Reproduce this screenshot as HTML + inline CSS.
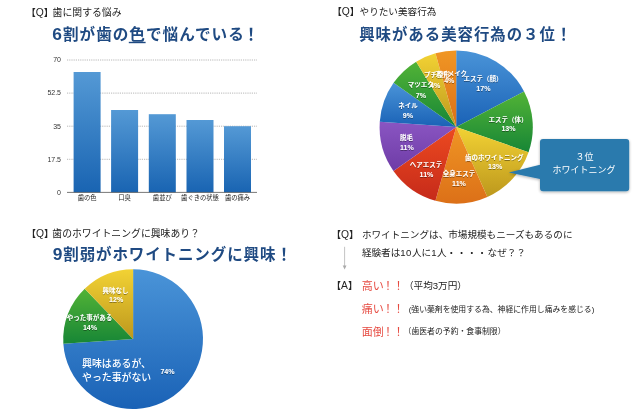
<!DOCTYPE html>
<html lang="ja"><head><meta charset="utf-8"><title>歯に関するアンケート</title>
<style>
html,body{margin:0;padding:0;background:#fff}
body{width:640px;height:416px;overflow:hidden}
svg{display:block;font-family:"Liberation Sans","Noto Sans CJK JP",sans-serif;filter:blur(0.3px)}
.q{font-size:9.6px;fill:#222}
.h{font-size:15.6px;letter-spacing:1px;font-weight:bold;fill:#1f4a82}
.bk{font-weight:bold}
.ql{font-size:10.3px}
.ax{font-size:7px;fill:#333}
.pl{font-size:6.5px;font-weight:bold;fill:#fff;text-anchor:middle}
.pp{font-size:7.1px;font-weight:bold;fill:#fff;text-anchor:middle}
.red{font-size:11px;fill:#e64a40}
.sm{font-size:7.85px;fill:#222}
</style></head><body>
<svg width="640" height="416" viewBox="0 0 640 416">
<defs>
<linearGradient id="g-blue" x1="0" y1="0" x2="0" y2="1"><stop offset="0" stop-color="#4a94d8"/><stop offset="1" stop-color="#1a62b6"/></linearGradient>
<linearGradient id="g-green" x1="0" y1="0" x2="0" y2="1"><stop offset="0" stop-color="#52b336"/><stop offset="1" stop-color="#178636"/></linearGradient>
<linearGradient id="g-yellow" x1="0" y1="0" x2="0" y2="1"><stop offset="0" stop-color="#f2d234"/><stop offset="1" stop-color="#bd981d"/></linearGradient>
<linearGradient id="g-orange" x1="0" y1="0" x2="0" y2="1"><stop offset="0" stop-color="#f09624"/><stop offset="1" stop-color="#dc7018"/></linearGradient>
<linearGradient id="g-red" x1="0" y1="0" x2="0" y2="1"><stop offset="0" stop-color="#ec4a20"/><stop offset="1" stop-color="#c62a1a"/></linearGradient>
<linearGradient id="g-purple" x1="0" y1="0" x2="0" y2="1"><stop offset="0" stop-color="#8a55c2"/><stop offset="1" stop-color="#6e3ca6"/></linearGradient>
<linearGradient id="g-bar" x1="0" y1="0" x2="0" y2="1"><stop offset="0" stop-color="#5499d5"/><stop offset="1" stop-color="#1964b2"/></linearGradient>
<filter id="sh" x="-20%" y="-20%" width="140%" height="150%"><feGaussianBlur in="SourceAlpha" stdDeviation="1.6"/><feOffset dx="0" dy="1.3"/><feComponentTransfer><feFuncA type="linear" slope="0.32"/></feComponentTransfer><feMerge><feMergeNode/><feMergeNode in="SourceGraphic"/></feMerge></filter>
<filter id="ts" x="-10%" y="-30%" width="120%" height="160%"><feGaussianBlur in="SourceAlpha" stdDeviation="0.5"/><feOffset dx="0" dy="0.5"/><feComponentTransfer><feFuncA type="linear" slope="0.38"/></feComponentTransfer><feMerge><feMergeNode/><feMergeNode in="SourceGraphic"/></feMerge></filter>
</defs>
<rect width="640" height="416" fill="#fff"/>
<text class="q" x="26.2" y="15.6"><tspan class="bk">【</tspan><tspan class="ql">Q</tspan><tspan class="bk">】</tspan></text><text class="q" x="52.6" y="15.5" style="font-size:9.85px">歯に関する悩み</text>
<text class="h" x="52.3" y="39.8"><tspan style="font-size:17.4px">6</tspan>割が歯の色で悩んでいる<tspan dx="-1.5">！</tspan></text><rect x="128.8" y="41.8" width="16.8" height="1.4" fill="#1f4a82"/>
<line x1="67" x2="257" y1="60.00" y2="60.00" stroke="#a6a6a6" stroke-width="0.8" stroke-dasharray="1.2 1"/>
<text class="ax" x="61" y="62.30" text-anchor="end">70</text>
<line x1="67" x2="257" y1="93.10" y2="93.10" stroke="#a6a6a6" stroke-width="0.8" stroke-dasharray="1.2 1"/>
<text class="ax" x="61" y="95.40" text-anchor="end">52.5</text>
<line x1="67" x2="257" y1="126.20" y2="126.20" stroke="#a6a6a6" stroke-width="0.8" stroke-dasharray="1.2 1"/>
<text class="ax" x="61" y="128.50" text-anchor="end">35</text>
<line x1="67" x2="257" y1="159.30" y2="159.30" stroke="#a6a6a6" stroke-width="0.8" stroke-dasharray="1.2 1"/>
<text class="ax" x="61" y="161.60" text-anchor="end">17.5</text>
<text class="ax" x="61" y="194.70" text-anchor="end">0</text>
<rect x="73.60" y="72" width="27" height="120.40" fill="url(#g-bar)"/>
<text class="ax" x="87.10" y="200.2" text-anchor="middle" style="font-size:6.3px;fill:#222">歯の色</text>
<rect x="111.10" y="110" width="27" height="82.40" fill="url(#g-bar)"/>
<text class="ax" x="124.60" y="200.2" text-anchor="middle" style="font-size:6.3px;fill:#222">口臭</text>
<rect x="148.80" y="114.2" width="27" height="78.20" fill="url(#g-bar)"/>
<text class="ax" x="162.30" y="200.2" text-anchor="middle" style="font-size:6.3px;fill:#222">歯並び</text>
<rect x="186.50" y="120" width="27" height="72.40" fill="url(#g-bar)"/>
<text class="ax" x="200.00" y="200.2" text-anchor="middle" style="font-size:6.3px;fill:#222">歯ぐきの状態</text>
<rect x="224.00" y="126.2" width="27" height="66.20" fill="url(#g-bar)"/>
<text class="ax" x="237.50" y="200.2" text-anchor="middle" style="font-size:6.3px;fill:#222">歯の痛み</text>
<line x1="67" x2="257" y1="192.4" y2="192.4" stroke="#555" stroke-width="0.8"/>
<text class="q" x="332.2" y="15.2"><tspan class="bk">【</tspan><tspan class="ql">Q</tspan><tspan class="bk">】</tspan></text><text class="q" x="359.6" y="14.8">やりたい美容行為</text>
<text class="h" x="359.2" y="39.6" style="font-size:15.4px">興味がある美容行為の３位<tspan dx="0">！</tspan></text>
<path d="M456.20,127.00L456.20,50.40A76.60,76.60 0 0 1 524.08,91.51Z" fill="url(#g-blue)"/>
<path d="M456.20,127.00L524.08,91.51A76.60,76.60 0 0 1 528.54,152.19Z" fill="url(#g-green)"/>
<path d="M456.20,127.00L528.54,152.19A76.60,76.60 0 0 1 487.36,196.98Z" fill="url(#g-yellow)"/>
<path d="M456.20,127.00L487.36,196.98A76.60,76.60 0 0 1 435.47,200.74Z" fill="url(#g-orange)"/>
<path d="M456.20,127.00L435.47,200.74A76.60,76.60 0 0 1 393.45,170.94Z" fill="url(#g-red)"/>
<path d="M456.20,127.00L393.45,170.94A76.60,76.60 0 0 1 379.78,121.79Z" fill="url(#g-purple)"/>
<path d="M456.20,127.00L379.78,121.79A76.60,76.60 0 0 1 393.61,82.85Z" fill="url(#g-blue)"/>
<path d="M456.20,127.00L393.61,82.85A76.60,76.60 0 0 1 416.18,61.69Z" fill="url(#g-green)"/>
<path d="M456.20,127.00L416.18,61.69A76.60,76.60 0 0 1 435.47,53.26Z" fill="url(#g-yellow)"/>
<path d="M456.20,127.00L435.47,53.26A76.60,76.60 0 0 1 456.20,50.40Z" fill="url(#g-orange)"/>
<g filter="url(#ts)">
<text class="pl" x="483" y="81.30">エステ（顔）</text><text class="pp" x="483.4" y="91.00">17%</text>
<text class="pl" x="508" y="121.90">エステ（体）</text><text class="pp" x="508.5" y="131.30">13%</text>
<text class="pl" x="494.2" y="160.00">歯のホワイトニング</text><text class="pp" x="495.2" y="169.40">13%</text>
<text class="pl" x="459" y="176.10">全身エステ</text><text class="pp" x="459" y="185.50">11%</text>
<text class="pl" x="426" y="167.10">ヘアエステ</text><text class="pp" x="426.5" y="176.90">11%</text>
<text class="pl" x="406.5" y="139.80">脱毛</text><text class="pp" x="406.8" y="149.70">11%</text>
<text class="pl" x="408" y="107.70">ネイル</text><text class="pp" x="408" y="117.80">9%</text>
<text class="pl" x="420.8" y="87.10">マツエク</text><text class="pp" x="421" y="97.50">7%</text>
<text class="pl" x="437" y="76.80">プチ整形</text><text class="pp" x="435.2" y="87.50">4%</text>
<text class="pl" x="451" y="75.50">アイメイク</text><text class="pp" x="449.3" y="82.50">4%</text>
</g>
<path filter="url(#sh)" fill="#2b7aad" d="M543,139.1H626.2a3,3 0 0 1 3,3V188.2a3,3 0 0 1 -3,3H543a3,3 0 0 1 -3,-3V179L508.8,172.5L540,164.8V142.1a3,3 0 0 1 3,-3Z"/>
<text x="584.5" y="160" text-anchor="middle" fill="#fff" style="font-size:9px">３位</text>
<text x="584" y="173.2" text-anchor="middle" fill="#fff" style="font-size:9px">ホワイトニング</text>
<text class="q" x="26.5" y="237.4"><tspan class="bk">【</tspan><tspan class="ql">Q</tspan><tspan class="bk">】</tspan></text><text class="q" x="52.3" y="237.4" style="font-size:9.85px">歯のホワイトニングに興味あり？</text>
<text class="h" x="52.7" y="260.3" style="font-size:15.5px;letter-spacing:0.89px"><tspan style="font-size:17.4px">9</tspan>割弱がホワイトニングに興味！</text>
<path d="M133.10,339.10L133.10,269.20A69.90,69.90 0 1 1 63.35,343.73Z" fill="url(#g-blue)"/>
<path d="M133.10,339.10L63.35,343.73A69.90,69.90 0 0 1 84.72,288.65Z" fill="url(#g-green)"/>
<path d="M133.10,339.10L84.72,288.65A69.90,69.90 0 0 1 133.10,269.20Z" fill="url(#g-yellow)"/>
<g filter="url(#ts)">
<text class="pl" x="115.6" y="293.30">興味なし</text><text class="pp" x="116.2" y="302.30">12%</text>
<text class="pl" x="89.5" y="320.10">やった事がある</text><text class="pp" x="90" y="329.50">14%</text>
<text class="pp" x="167.5" y="374">74%</text>
</g>
<text x="82" y="366.5" fill="#fff" style="font-size:9.9px;font-weight:500">興味はあるが、</text>
<text x="82" y="381" fill="#fff" style="font-size:9.9px;font-weight:500">やった事がない</text>
<text class="q" x="331.5" y="238"><tspan class="bk">【</tspan><tspan class="ql">Q</tspan><tspan class="bk">】</tspan></text>
<text class="q" x="361.9" y="238">ホワイトニングは、市場規模もニーズもあるのに</text>
<text class="q" x="361.9" y="256.3">経験者は<tspan letter-spacing="0.5">10</tspan>人に<tspan letter-spacing="0.5">1</tspan>人<tspan letter-spacing="0.65">・・・・</tspan>なぜ？？</text>
<path d="M344.6,246.8V266" stroke="#aaa" stroke-width="0.7" fill="none"/><path d="M342.7,265.6L344.6,269.4L346.5,265.6Z" fill="#aaa"/>
<text class="q" x="331.5" y="289"><tspan class="bk">【</tspan><tspan class="ql">A</tspan><tspan class="bk">】</tspan></text>
<text class="red" x="361.7" y="289.5">高い<tspan dx="-1.1">！</tspan><tspan dx="-0.6">！</tspan></text><text class="q" x="404" y="289">（平均3万円）</text>
<text class="red" x="361.7" y="312.7">痛い<tspan dx="-1.1">！</tspan><tspan dx="-0.6">！</tspan></text><text class="sm" x="408.7" y="311.5">(強い薬剤を使用する為、神経に作用し痛みを感じる)</text>
<text class="red" x="361.7" y="335.9">面倒<tspan dx="-1.1">！</tspan><tspan dx="-0.6">！</tspan></text><text class="sm" x="403.6" y="334.3">（歯医者の予約・食事制限）</text>
</svg></body></html>
